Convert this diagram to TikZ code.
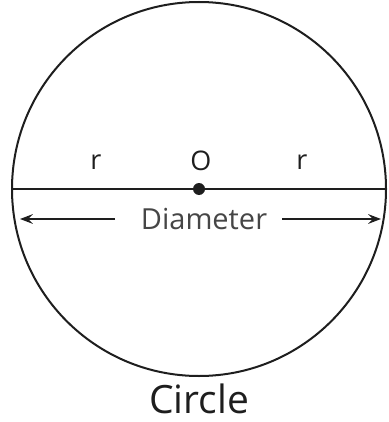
\documentclass[tikz,border=0pt]{standalone}
\usepackage{fontspec}
\setmainfont{Open Sans}
\usepackage{xcolor}
\usepackage{tikz}
\usetikzlibrary{arrows.meta,positioning,calc}
\definecolor{ink}{RGB}{30,30,30}
\definecolor{softink}{RGB}{70,70,70}
\tikzset{
  rim/.style={line width=2pt,ink},
  chord/.style={line width=2.2pt,ink},
  span/.style={line width=1.8pt,ink,-{Stealth[length=4.5mm,width=3.4mm,inset=1.6mm]}},
  centre/.style={circle,fill=ink,inner sep=0pt,minimum size=12pt},
  label/.style={font=\fontsize{27}{29}\selectfont,text=ink,inner sep=0pt},
  title/.style={font=\fontsize{39}{41}\selectfont,text=ink,inner sep=0pt}
}

\begin{document}
\begin{tikzpicture}[x=1pt,y=-1pt]
  \useasboundingbox (0,0) rectangle (388,422);
  \coordinate (c) at (199,189);
  \draw[rim] (c) circle[radius=187];
  \coordinate (west) at (12,189);
  \coordinate (east) at (386,189);
  \draw[chord] (west)--(east);
  \node[centre] (o) at (c) {};
  \node[label] (olab) at (201,161) {O};
  \node[label] (rl) at (96,162) {r};
  \node[label] (rr) at (302,162) {r};
  % diameter arrow
  \node[label,text=softink,font=\fontsize{29}{31}\selectfont] (dia) at (204,219) {Diameter};
  \coordinate (dwest) at (20,219);
  \coordinate (deast) at (381,219);
  \draw[span] (115,219)--(dwest);
  \draw[span] (282,219)--(deast);
  \node[title,anchor=base] (name) at (199,413) {Circle};
\end{tikzpicture}
\end{document}
